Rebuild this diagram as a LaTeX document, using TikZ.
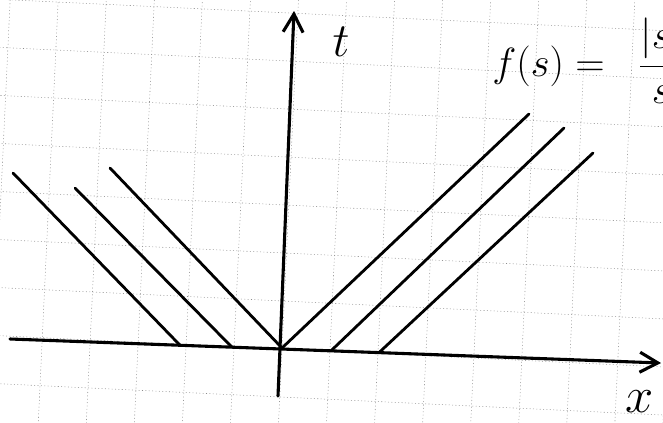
\RequirePackage{fix-cm}
\documentclass[tikz,border=0pt]{standalone}
\usetikzlibrary{arrows.meta}

\begin{document}
\begin{tikzpicture}[line width=2pt, line cap=round,
    grade/.style={line width=0.4pt, black!45, dotted},
    eixo/.style={line width=2.2pt, -{Straight Barb[length=4.5mm,width=5mm]}},
    rotulo/.style={inner sep=0pt}]
    \clip (0,0) rectangle (16.575,10.55);
    % papel quadriculado
    \begin{scope}[shift={(7.05,1.825)}, rotate=-2.7]
        \draw[grade] (-9.6,-3.6) grid[step=1.2] (12,10.8);
    \end{scope}
    % eixos x e t
    \coordinate (O) at (7.05,1.85);
    \coordinate (xini) at (0.25,2.075);
    \coordinate (xfim) at (16.525,1.475);
    \coordinate (tini) at (6.95,0.65);
    \coordinate (tfim) at (7.35,10.275);
    \draw[eixo] (xini) -- (xfim);
    \draw[eixo] (tini) -- (tfim);
    % pes das retas sobre o eixo x
    \coordinate (pe1) at (4.5,1.92);
    \coordinate (pe2) at (5.8,1.87);
    \coordinate (pe4) at (8.275,1.78);
    \coordinate (pe5) at (9.475,1.735);
    % retas da esquerda
    \draw (0.325,6.225) -- (pe1);
    \draw (1.875,5.85) -- (pe2);
    \draw (2.75,6.35) -- (O);
    % retas da direita
    \draw (O) -- (13.225,7.7);
    \draw (pe4) -- (14.1,7.35);
    \draw (pe5) -- (14.825,6.725);
    % rotulos
    \node[rotulo, font=\fontsize{34}{36}\selectfont] (rt) at (8.525,9.5) {$t$};
    \node[rotulo, font=\fontsize{36}{38}\selectfont] (rx) at (16.0,0.5) {$x$};
    \node[rotulo, anchor=base west, font=\fontsize{29}{32}\selectfont] (fs) at (12.275,8.65)
        {$\displaystyle f(s)=\mkern10mu\frac{|s|}{s}$};
\end{tikzpicture}
\end{document}
